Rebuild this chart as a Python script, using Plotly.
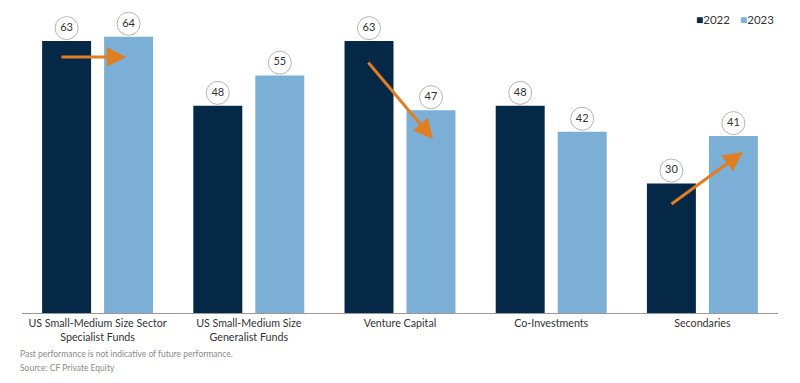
import plotly.graph_objects as go

categories = ["US Small-Medium Size Sector<br>Specialist Funds",
              "US Small-Medium Size<br>Generalist Funds",
              "Venture Capital", "Co-Investments", "Secondaries"]
values_2022 = [63, 48, 63, 48, 30]
values_2023 = [64, 55, 47, 42, 41]
series_names = ["2022", "2023"]
colors = ["#062847", "#7BAFD6"]
arrow_color = "#E07E22"
# arrows: (tail x index, tail y, head x index, head y) in data units
arrows = [(-0.249, 59.3, 0.19, 59.3),
          (1.782, 58.4, 2.218, 40.3),
          (3.786, 25.0, 4.268, 37.3)]
footnotes = ["Past performance is not indicative of future performance.",
             "Source: CF Private Equity"]

FONT = "Lato, Open Sans, sans-serif"
fig = go.Figure()
for name, vals, col in zip(series_names, [values_2022, values_2023], colors):
    fig.add_trace(go.Bar(name=name, x=categories, y=vals, marker_color=col,
                         marker_line_width=0, showlegend=False,
                         offsetgroup=name))

# circle labels
offset = 3.0
for k, (name, vals) in enumerate(zip(series_names, [values_2022, values_2023])):
    fig.add_trace(go.Scatter(
        x=categories, y=[v + offset for v in vals], mode="markers+text",
        text=[str(v) for v in vals], textposition="middle center",
        textfont=dict(size=11, color="#333333", family=FONT),
        marker=dict(symbol="circle", size=23, color="white",
                    line=dict(color="#b5b5b5", width=1)),
        offsetgroup=name, showlegend=False, hoverinfo="skip"))

fig.update_layout(scattermode="group")

for (x0, y0, x1, y1) in arrows:
    fig.add_annotation(x=x1, y=y1, ax=x0, ay=y0, xref="x", yref="y",
                       axref="x", ayref="y", showarrow=True, text="",
                       arrowhead=2, arrowsize=1.3, arrowwidth=3,
                       arrowcolor=arrow_color)

# legend
for i, (name, col) in enumerate(zip(series_names, colors)):
    fig.add_annotation(xref="paper", yref="paper", x=[0.889, 0.947][i], y=0.967,
                       xanchor="left", yanchor="middle", showarrow=False,
                       text=f"<span style='color:{col};font-size:12px'>■</span>{name}",
                       font=dict(size=11.5, color="#333333", family=FONT))

for j, t in enumerate(footnotes):
    fig.add_annotation(xref="paper", yref="paper", x=-0.005, y=[-0.135, -0.18][j],
                       xanchor="left", yanchor="middle", showarrow=False,
                       text=t, font=dict(size=8.5, color="#8a8a8a", family=FONT))

fig.update_layout(
    width=800, height=383,
    margin=dict(l=22, r=22, t=10, b=70),
    plot_bgcolor="white", paper_bgcolor="white",
    barmode="group", bargap=0.18, bargroupgap=0.21,
    font=dict(family=FONT, size=12, color="#333333"),
    xaxis=dict(showline=True, linecolor="#999999", linewidth=1,
               ticks="", tickfont=dict(size=10.7, color="#333333", family=FONT),
               showgrid=False),
    yaxis=dict(range=[0, 70.2], visible=False, showgrid=False),
)
fig.write_html("out.html", config={"displayModeBar": False},
               post_script="document.body.style.margin='0';document.body.style.overflow='hidden';")
